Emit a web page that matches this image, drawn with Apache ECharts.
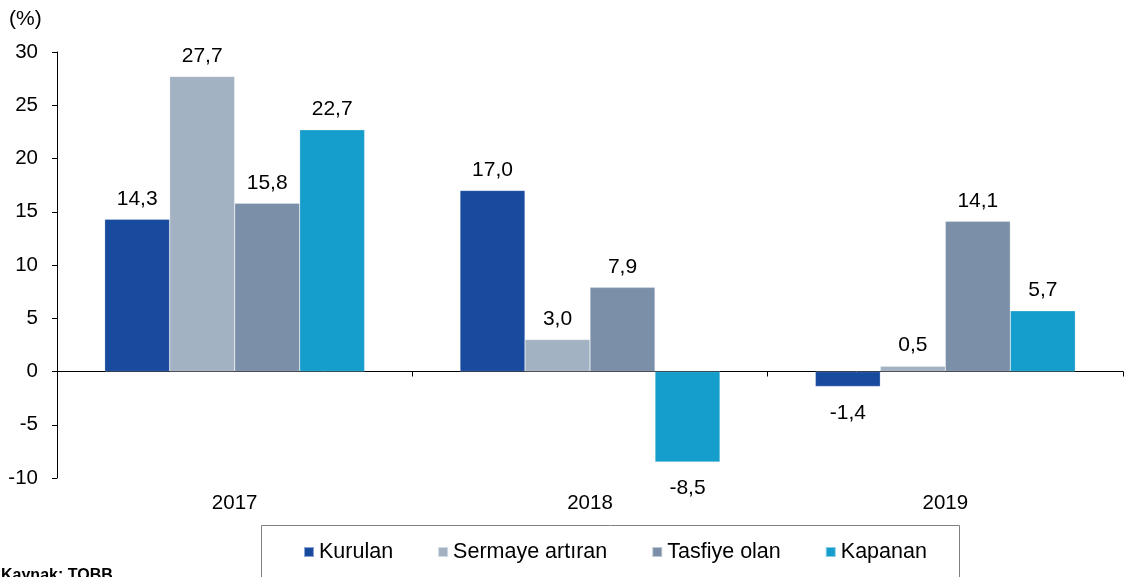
<!DOCTYPE html>
<html>
<head>
<meta charset="utf-8">
<script src="https://cdn.jsdelivr.net/npm/echarts@6/dist/echarts.min.js"></script>
<style>
  html, body { margin: 0; padding: 0; background: #fff; }
  #chart { width: 1126px; height: 577px; }
</style>
</head>
<body>
<div id="chart"></div>
<script>
// yıllar ve seriler
const years = ['2017', '2018', '2019'];
const seriesNames = ['Kurulan', 'Sermaye artıran', 'Tasfiye olan', 'Kapanan'];
const kurulan = [14.3, 17.0, -1.4];
const sermayeArtiran = [27.7, 3.0, 0.5];
const tasfiyeOlan = [15.8, 7.9, 14.1];
const kapanan = [22.7, -8.5, 5.7];
const yTicks = [-10, -5, 0, 5, 10, 15, 20, 25, 30];

const colors = ['#184A9E', '#A2B2C3', '#7B8FA8', '#159DCC'];
const font = 'Liberation Sans, Arial, sans-serif';

const fmt = v => v.toFixed(1).replace('.', ',');

function makeSeries(name, values, color) {
    return {
        name: name,
        type: 'bar',
        xAxisIndex: 0,
        barWidth: 65,
        barGap: '0%',
        itemStyle: { color: color, borderColor: 'rgba(255,255,255,0.5)', borderWidth: 0.5 },
        data: values.map(v => ({
            value: v,
            label: v < 0
                ? { position: 'bottom', distance: 16 }
                : { position: 'top', distance: 10 }
        })),
        label: {
            show: true,
            color: '#000',
            fontFamily: font,
            fontSize: 21,
            formatter: p => fmt(p.value)
        }
    };
}

const chart = echarts.init(document.getElementById('chart'));

chart.setOption({
    animation: false,
    color: colors,
    grid: { left: 57, right: 3, top: 52, bottom: 99, containLabel: false },
    legend: {
        data: seriesNames,
        left: 303,
        top: 541,
        padding: 0,
        icon: 'rect',
        itemWidth: 10,
        itemHeight: 10,
        itemGap: 44,
        textStyle: { color: '#000', fontFamily: font, fontSize: 21.5, padding: [0, 0, 0, 0] }
    },
    xAxis: [
        {
            type: 'category',
            data: years,
            axisLine: { onZero: true, lineStyle: { color: '#000', width: 1 } },
            axisTick: { show: true, length: 5, lineStyle: { color: '#000' } },
            axisLabel: { show: false }
        },
        {
            type: 'category',
            data: years,
            position: 'bottom',
            axisLine: { show: false },
            axisTick: { show: false },
            axisLabel: { color: '#000', fontFamily: font, fontSize: 20.5, margin: 15 }
        }
    ],
    yAxis: {
        type: 'value',
        min: yTicks[0],
        max: yTicks[yTicks.length - 1],
        interval: 5,
        splitLine: { show: false },
        axisLine: { show: true, lineStyle: { color: '#000', width: 1 } },
        axisTick: { show: true, length: 5, lineStyle: { color: '#000' } },
        axisLabel: { color: '#000', fontFamily: font, fontSize: 20.5, margin: 19 }
    },
    graphic: [
        {
            type: 'text', left: 9, top: 9,
            style: { text: '(%)', fill: '#000', font: '21px ' + font }
        },
        {
            type: 'rect', left: 259, top: 523,
            shape: { width: 698, height: 80 },
            style: { fill: 'none', stroke: '#808080', lineWidth: 1 }
        },
        {
            type: 'text', left: 1, top: 568,
            style: { text: 'Kaynak: TOBB', fill: '#000', font: 'bold 16px ' + font }
        }
    ],
    series: [
        makeSeries(seriesNames[0], kurulan, colors[0]),
        makeSeries(seriesNames[1], sermayeArtiran, colors[1]),
        makeSeries(seriesNames[2], tasfiyeOlan, colors[2]),
        makeSeries(seriesNames[3], kapanan, colors[3])
    ]
});
</script>
</body>
</html>
